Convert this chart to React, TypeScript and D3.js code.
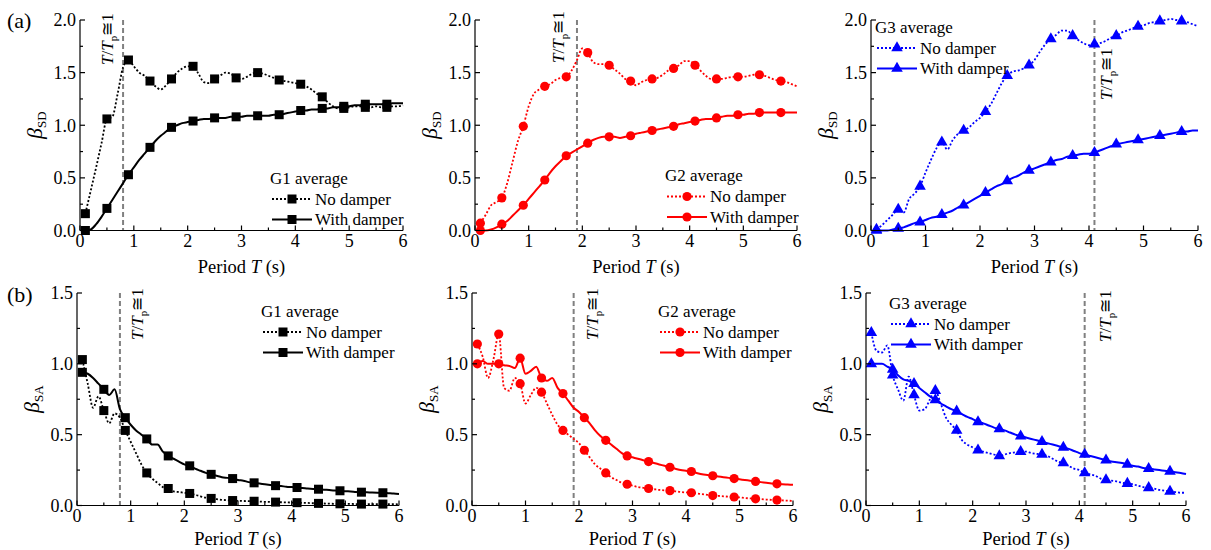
import React from 'react';
import * as d3 from 'd3';

// ---------- data ----------
const T_GRID = [
  0.1, 0.2, 0.3, 0.4, 0.5, 0.6, 0.7, 0.8, 0.9, 1.0,
  1.1, 1.2, 1.3, 1.4, 1.5, 1.6, 1.7, 1.8, 1.9, 2.0,
  2.1, 2.2, 2.3, 2.4, 2.5, 2.6, 2.7, 2.8, 2.9, 3.0,
  3.1, 3.2, 3.3, 3.4, 3.5, 3.6, 3.7, 3.8, 3.9, 4.0,
  4.1, 4.2, 4.3, 4.4, 4.5, 4.6, 4.7, 4.8, 4.9, 5.0,
  5.1, 5.2, 5.3, 5.4, 5.5, 5.6, 5.7, 5.8, 5.9, 6.0,
];
const MARKER_T = [0.1, 0.5, 0.9, 1.3, 1.7, 2.1, 2.5, 2.9, 3.3, 3.7, 4.1, 4.5, 4.9, 5.3, 5.7];
const X_TICKS = [0, 1, 2, 3, 4, 5, 6];
const SD_TICKS = [0, 0.5, 1.0, 1.5, 2.0];
const SA_TICKS = [0, 0.5, 1.0, 1.5];
const GROUPS = ['G1', 'G2', 'G3'];
const TP_T = [0.8, 1.9, 4.1];
const LEG_NO = 'No damper';
const LEG_WITH = 'With damper';

// (a) beta_SD
const SD_G1_NO = [
  0.16, 0.38, 0.60, 0.83, 1.06, 1.08, 1.30, 1.55, 1.62, 1.56,
  1.50, 1.47, 1.42, 1.37, 1.34, 1.38, 1.44, 1.50, 1.54, 1.56,
  1.56, 1.49, 1.41, 1.40, 1.44, 1.47, 1.50, 1.49, 1.45, 1.44,
  1.46, 1.49, 1.50, 1.49, 1.47, 1.45, 1.43, 1.42, 1.41, 1.40,
  1.39, 1.37, 1.34, 1.30, 1.27, 1.22, 1.18, 1.16, 1.16, 1.17,
  1.18, 1.18, 1.17, 1.17, 1.18, 1.17, 1.17, 1.18, 1.18, 1.19,
];
const SD_G1_WITH = [
  0.00, 0.01, 0.06, 0.13, 0.21, 0.29, 0.37, 0.45, 0.53, 0.60,
  0.67, 0.73, 0.79, 0.85, 0.90, 0.94, 0.98, 1.00, 1.02, 1.03,
  1.04, 1.05, 1.06, 1.06, 1.07, 1.07, 1.07, 1.08, 1.08, 1.08,
  1.09, 1.09, 1.09, 1.09, 1.09, 1.10, 1.10, 1.11, 1.12, 1.13,
  1.14, 1.14, 1.15, 1.15, 1.16, 1.16, 1.17, 1.17, 1.18, 1.18,
  1.19, 1.19, 1.20, 1.20, 1.20, 1.20, 1.20, 1.21, 1.21, 1.21,
];
const SD_G2_NO = [
  0.07, 0.15, 0.24, 0.27, 0.31, 0.45, 0.65, 0.85, 0.99, 1.18,
  1.30, 1.34, 1.37, 1.39, 1.43, 1.45, 1.46, 1.52, 1.62, 1.73,
  1.69, 1.60, 1.58, 1.58, 1.57, 1.53, 1.49, 1.44, 1.42, 1.38,
  1.41, 1.43, 1.44, 1.45, 1.48, 1.52, 1.54, 1.57, 1.61, 1.61,
  1.57, 1.52, 1.47, 1.44, 1.44, 1.44, 1.45, 1.46, 1.46, 1.46,
  1.47, 1.48, 1.48, 1.47, 1.45, 1.43, 1.42, 1.41, 1.39, 1.37,
];
const SD_G2_WITH = [
  0.00, 0.00, 0.01, 0.03, 0.06, 0.09, 0.14, 0.19, 0.24, 0.30,
  0.36, 0.42, 0.48, 0.55, 0.61, 0.66, 0.71, 0.74, 0.77, 0.80,
  0.83, 0.86, 0.88, 0.89, 0.89, 0.89, 0.88, 0.89, 0.90, 0.92,
  0.93, 0.94, 0.95, 0.96, 0.97, 0.98, 0.99, 1.01, 1.02, 1.03,
  1.04, 1.05, 1.06, 1.06, 1.07, 1.08, 1.09, 1.09, 1.10, 1.10,
  1.11, 1.11, 1.12, 1.12, 1.12, 1.12, 1.12, 1.12, 1.12, 1.12,
];
const SD_G3_NO = [
  0.01, 0.05, 0.10, 0.15, 0.20, 0.17, 0.30, 0.35, 0.42, 0.55,
  0.67, 0.78, 0.84, 0.77, 0.86, 0.92, 0.95, 0.98, 1.03, 1.07,
  1.13, 1.20, 1.30, 1.40, 1.47, 1.51, 1.52, 1.54, 1.57, 1.62,
  1.70, 1.77, 1.82, 1.86, 1.90, 1.90, 1.85, 1.81, 1.78, 1.76,
  1.77, 1.78, 1.80, 1.83, 1.85, 1.88, 1.90, 1.92, 1.94, 1.95,
  1.97, 1.98, 1.99, 2.00, 2.01, 2.00, 1.99, 1.98, 1.96, 1.94,
];
const SD_G3_WITH = [
  0.00, 0.00, 0.00, 0.01, 0.02, 0.03, 0.05, 0.07, 0.08, 0.10,
  0.12, 0.13, 0.15, 0.17, 0.19, 0.22, 0.24, 0.27, 0.30, 0.33,
  0.36, 0.39, 0.42, 0.44, 0.47, 0.50, 0.52, 0.55, 0.57, 0.59,
  0.61, 0.63, 0.65, 0.67, 0.68, 0.70, 0.71, 0.72, 0.73, 0.73,
  0.74, 0.76, 0.78, 0.80, 0.82, 0.83, 0.84, 0.85, 0.86, 0.87,
  0.88, 0.89, 0.90, 0.91, 0.92, 0.93, 0.94, 0.94, 0.95, 0.95,
];

// (b) beta_SA
const SA_G1_NO = [
  1.03, 0.86, 0.69, 0.77, 0.67, 0.58, 0.65, 0.62, 0.53, 0.45,
  0.37, 0.29, 0.23, 0.19, 0.16, 0.13, 0.12, 0.10, 0.095, 0.09,
  0.085, 0.075, 0.065, 0.055, 0.05, 0.045, 0.04, 0.037, 0.035, 0.033,
  0.032, 0.031, 0.03, 0.028, 0.026, 0.025, 0.024, 0.023, 0.022, 0.021,
  0.02, 0.019, 0.018, 0.016, 0.015, 0.014, 0.013, 0.012, 0.012, 0.011,
  0.011, 0.010, 0.010, 0.010, 0.010, 0.010, 0.010, 0.009, 0.009, 0.008,
];
const SA_G1_WITH = [
  0.94, 0.93, 0.90, 0.86, 0.82, 0.78, 0.82, 0.68, 0.62, 0.57,
  0.53, 0.50, 0.47, 0.43, 0.43, 0.38, 0.35, 0.33, 0.31, 0.29,
  0.28, 0.26, 0.245, 0.23, 0.22, 0.21, 0.20, 0.195, 0.19, 0.18,
  0.175, 0.165, 0.16, 0.155, 0.15, 0.145, 0.14, 0.137, 0.133, 0.13,
  0.127, 0.124, 0.12, 0.117, 0.115, 0.112, 0.109, 0.106, 0.104, 0.101,
  0.099, 0.096, 0.094, 0.093, 0.091, 0.09, 0.09, 0.087, 0.084, 0.082,
];
const SA_G2_NO = [
  1.14, 1.05, 0.90, 1.03, 1.21, 0.83, 0.81, 0.90, 0.86, 0.72,
  0.78, 0.83, 0.80, 0.72, 0.64, 0.57, 0.53, 0.50, 0.47, 0.44,
  0.39, 0.34, 0.29, 0.26, 0.23, 0.20, 0.18, 0.16, 0.15, 0.14,
  0.13, 0.125, 0.12, 0.115, 0.11, 0.107, 0.105, 0.10, 0.095, 0.092,
  0.09, 0.085, 0.08, 0.075, 0.07, 0.068, 0.065, 0.062, 0.06, 0.057,
  0.053, 0.05, 0.047, 0.045, 0.042, 0.04, 0.038, 0.036, 0.034, 0.033,
];
const SA_G2_WITH = [
  1.00, 1.02, 1.00, 1.00, 1.00, 0.99, 0.985, 0.97, 1.04, 0.93,
  0.95, 0.98, 0.90, 0.88, 0.90, 0.83, 0.79, 0.74, 0.69, 0.66,
  0.62, 0.58, 0.53, 0.49, 0.46, 0.43, 0.40, 0.37, 0.35, 0.34,
  0.33, 0.32, 0.31, 0.30, 0.29, 0.28, 0.27, 0.26, 0.25, 0.245,
  0.24, 0.23, 0.22, 0.215, 0.21, 0.205, 0.20, 0.195, 0.19, 0.185,
  0.18, 0.175, 0.17, 0.165, 0.16, 0.155, 0.153, 0.15, 0.148, 0.146,
];
const SA_G3_NO = [
  1.22, 1.09, 1.08, 1.13, 0.92, 0.82, 0.74, 0.91, 0.78, 0.67,
  0.68, 0.75, 0.81, 0.72, 0.62, 0.57, 0.53, 0.46, 0.43, 0.41,
  0.39, 0.38, 0.37, 0.36, 0.35, 0.36, 0.37, 0.375, 0.38, 0.38,
  0.37, 0.365, 0.36, 0.35, 0.33, 0.31, 0.30, 0.28, 0.26, 0.25,
  0.23, 0.22, 0.21, 0.19, 0.18, 0.175, 0.17, 0.16, 0.155, 0.15,
  0.14, 0.13, 0.125, 0.12, 0.11, 0.105, 0.10, 0.095, 0.09, 0.09,
];
const SA_G3_WITH = [
  1.00, 1.00, 1.00, 0.98, 0.96, 0.92, 0.89, 0.88, 0.86, 0.83,
  0.80, 0.77, 0.745, 0.72, 0.70, 0.68, 0.665, 0.645, 0.625, 0.61,
  0.59, 0.58, 0.565, 0.55, 0.54, 0.53, 0.515, 0.50, 0.49, 0.48,
  0.47, 0.46, 0.45, 0.44, 0.43, 0.42, 0.41, 0.40, 0.385, 0.37,
  0.36, 0.35, 0.34, 0.33, 0.32, 0.31, 0.305, 0.30, 0.29, 0.28,
  0.275, 0.265, 0.26, 0.255, 0.25, 0.245, 0.24, 0.235, 0.23, 0.223,
];

// ---------- layout / style ----------
const FONT = 'Liberation Serif, DejaVu Serif, Times New Roman, serif';
const COLORS = ['#000000', '#ff0000', '#0000ff'];
const SHAPES = ['square', 'circle', 'triangle'];

const FRAMES = [
  { x0: 80, x1: 403, yT: 20, yB: 230.5 },
  { x0: 475, x1: 797, yT: 20, yB: 230.5 },
  { x0: 871, x1: 1198, yT: 20, yB: 230.5 },
  { x0: 77, x1: 399, yT: 293, yB: 505.5 },
  { x0: 472, x1: 793, yT: 293, yB: 505.5 },
  { x0: 866, x1: 1186, yT: 293, yB: 505.5 },
];
const LEGENDS = [
  { x: 272, y: 199 },
  { x: 667, y: 196.5 },
  { x: 877, y: 48 },
  { x: 263, y: 332 },
  { x: 660, y: 332 },
  { x: 891, y: 324 },
];
const ANNOTS = [
  { dx: -10, y: 65 },
  { dx: -13, y: 63 },
  { dx: 18, y: 100 },
  { dx: 23, y: 340 },
  { dx: 24, y: 340 },
  { dx: 26, y: 342 },
];

const PANELS = [
  { no: SD_G1_NO, wi: SD_G1_WITH, g: 0, kind: 'SD' },
  { no: SD_G2_NO, wi: SD_G2_WITH, g: 1, kind: 'SD' },
  { no: SD_G3_NO, wi: SD_G3_WITH, g: 2, kind: 'SD' },
  { no: SA_G1_NO, wi: SA_G1_WITH, g: 0, kind: 'SA' },
  { no: SA_G2_NO, wi: SA_G2_WITH, g: 1, kind: 'SA' },
  { no: SA_G3_NO, wi: SA_G3_WITH, g: 2, kind: 'SA' },
];

function Marker({ shape, x, y, color }: any) {
  if (shape === 'square') {
    return <rect x={x - 4.5} y={y - 4.5} width={9} height={9} fill={color} />;
  }
  if (shape === 'circle') {
    return <circle cx={x} cy={y} r={4.6} fill={color} />;
  }
  const p = d3.symbol().type(d3.symbolTriangle).size(58)() as string;
  return <path d={p} transform={`translate(${x},${y})`} fill={color} />;
}

function Panel({ idx }: { idx: number }) {
  const P = PANELS[idx];
  const F = FRAMES[idx];
  const L = LEGENDS[idx];
  const A = ANNOTS[idx];
  const color = COLORS[P.g];
  const shape = SHAPES[P.g];
  const yTicks = P.kind === 'SD' ? SD_TICKS : SA_TICKS;
  const yMax = yTicks[yTicks.length - 1];
  const x = d3.scaleLinear().domain([0, 6]).range([F.x0, F.x1]);
  const y = d3.scaleLinear().domain([0, yMax]).range([F.yB, F.yT]);
  const line = d3
    .line<number>()
    .x((_, i) => x(T_GRID[i]))
    .y((d) => y(d))
    .curve(d3.curveMonotoneX);
  const fmt = d3.format('.1f');
  const minorX = d3.range(0.5, 6, 1);
  const minorY = d3.range(0.25, yMax, 0.5);
  const markerIdx = MARKER_T.map((t) => T_GRID.findIndex((g) => Math.abs(g - t) < 1e-6));
  const tpx = x(TP_T[P.g]);
  const midY = (F.yT + F.yB) / 2;
  const dots = '2,2';

  return (
    <g>
      <line x1={tpx} x2={tpx} y1={F.yT} y2={F.yB} stroke="#808080" strokeWidth={2} strokeDasharray="5,3" />
      <text transform={`translate(${tpx + A.dx},${A.y}) rotate(-90)`} fontSize={17} fill="#000">
        <tspan fontStyle="italic">T</tspan>
        <tspan>/</tspan>
        <tspan fontStyle="italic">T</tspan>
        <tspan fontSize={11} dy={4}>p</tspan>
        <tspan dy={-4}>{'\u2245'}1</tspan>
      </text>
      <path d={line(P.no) as string} fill="none" stroke={color} strokeWidth={1.8} strokeDasharray={dots} />
      <path d={line(P.wi) as string} fill="none" stroke={color} strokeWidth={2} />
      {markerIdx.map((i) => (
        <Marker key={'n' + i} shape={shape} x={x(T_GRID[i])} y={y(P.no[i])} color={color} />
      ))}
      {markerIdx.map((i) => (
        <Marker key={'w' + i} shape={shape} x={x(T_GRID[i])} y={y(P.wi[i])} color={color} />
      ))}
      <line x1={F.x0} x2={F.x1} y1={F.yB} y2={F.yB} stroke="#000" strokeWidth={1.2} />
      <line x1={F.x0} x2={F.x0} y1={F.yT} y2={F.yB} stroke="#000" strokeWidth={1.2} />
      {X_TICKS.map((t) => (
        <g key={'xt' + t}>
          <line x1={x(t)} x2={x(t)} y1={F.yB} y2={F.yB - 5} stroke="#000" strokeWidth={1.2} />
          <text x={x(t)} y={F.yB + 16.5} textAnchor="middle" fontSize={18}>
            {t}
          </text>
        </g>
      ))}
      {minorX.map((t) => (
        <line key={'xm' + t} x1={x(t)} x2={x(t)} y1={F.yB} y2={F.yB - 3} stroke="#000" strokeWidth={1.2} />
      ))}
      {yTicks.map((t) => (
        <g key={'yt' + t}>
          <line x1={F.x0} x2={F.x0 + 5} y1={y(t)} y2={y(t)} stroke="#000" strokeWidth={1.2} />
          <text x={F.x0 - 4} y={y(t)} dy="0.35em" textAnchor="end" fontSize={18}>
            {fmt(t)}
          </text>
        </g>
      ))}
      {minorY.map((t) => (
        <line key={'ym' + t} x1={F.x0} x2={F.x0 + 3} y1={y(t)} y2={y(t)} stroke="#000" strokeWidth={1.2} />
      ))}
      <text x={(F.x0 + F.x1) / 2} y={F.yB + (idx < 3 ? 42 : 39)} textAnchor="middle" fontSize={18.5}>
        Period <tspan fontStyle="italic">T</tspan> (s)
      </text>
      <text transform={`translate(${F.x0 - 38},${midY}) rotate(-90)`} textAnchor="middle" fontSize={22}>
        <tspan fontStyle="italic">{'\u03b2'}</tspan>
        <tspan fontSize={13} dy={4}>
          {P.kind}
        </tspan>
      </text>
      <text x={L.x - 2} y={L.y - 15.5} fontSize={17}>
        {GROUPS[P.g]} average
      </text>
      <line x1={L.x} x2={L.x + 40} y1={L.y} y2={L.y} stroke={color} strokeWidth={1.8} strokeDasharray={dots} />
      <Marker shape={shape} x={L.x + 20} y={L.y} color={color} />
      <text x={L.x + 43} y={L.y + 5.5} fontSize={17}>
        {LEG_NO}
      </text>
      <line x1={L.x} x2={L.x + 40} y1={L.y + 20.5} y2={L.y + 20.5} stroke={color} strokeWidth={2} />
      <Marker shape={shape} x={L.x + 20} y={L.y + 20.5} color={color} />
      <text x={L.x + 43} y={L.y + 26} fontSize={17}>
        {LEG_WITH}
      </text>
    </g>
  );
}

export default function App() {
  return (
    <svg
      width={1211}
      height={550}
      viewBox="0 0 1211 550"
      style={{ position: 'absolute', left: 0, top: 0, background: '#fff', fontFamily: FONT }}
    >
      <rect x={0} y={0} width={1211} height={550} fill="#fff" />
      <text x={7} y={28} fontSize={22}>
        (a)
      </text>
      <text x={7} y={302} fontSize={22}>
        (b)
      </text>
      {PANELS.map((_, i) => (
        <Panel key={i} idx={i} />
      ))}
    </svg>
  );
}
